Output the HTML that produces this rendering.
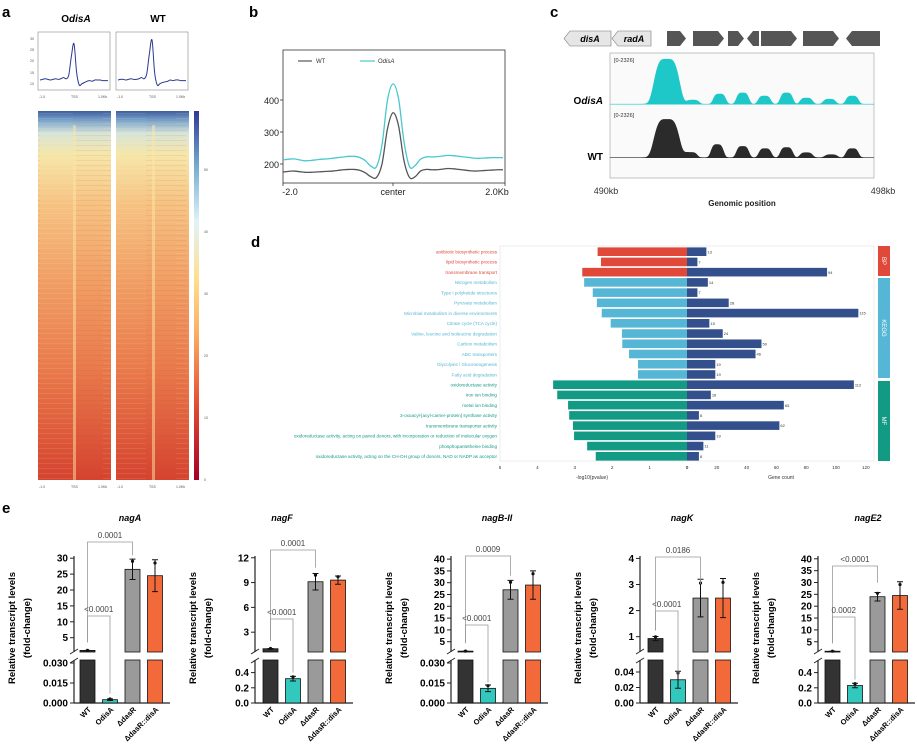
<!DOCTYPE html>
<html><head><meta charset="utf-8">
<style>
html,body{margin:0;padding:0;background:#fff;}
svg{display:block;font-family:"Liberation Sans","Noto Sans CJK SC",sans-serif;}
</style></head>
<body>
<svg id="fig" width="917" height="746" viewBox="0 0 917 746" xmlns="http://www.w3.org/2000/svg">
<defs>
<linearGradient id="hmGrad" x1="0" y1="0" x2="0" y2="1">
<stop offset="0" stop-color="#3d5c9e"/><stop offset="0.025" stop-color="#7aa3cc"/><stop offset="0.06" stop-color="#d6e4d8"/><stop offset="0.12" stop-color="#f6e6a8"/><stop offset="0.25" stop-color="#f6c383"/><stop offset="0.45" stop-color="#f1a066"/><stop offset="0.7" stop-color="#e97a4b"/><stop offset="1" stop-color="#d5432f"/>
</linearGradient>
<linearGradient id="cbGrad" x1="0" y1="1" x2="0" y2="0">
<stop offset="0" stop-color="#a50026"/><stop offset="0.2" stop-color="#e34a33"/><stop offset="0.4" stop-color="#fdae61"/><stop offset="0.55" stop-color="#fee090"/><stop offset="0.7" stop-color="#e0f3f8"/><stop offset="0.85" stop-color="#74add1"/><stop offset="1" stop-color="#313695"/>
</linearGradient>
<pattern id="streaks" width="73" height="5" patternUnits="userSpaceOnUse">
<rect x="0" y="0" width="40" height="1" fill="#c8442e" opacity="0.1"/><rect x="30" y="3" width="43" height="1" fill="#fff5d0" opacity="0.1"/>
</pattern>
</defs>

<text x="2" y="17" font-size="15" font-weight="bold">a</text>
<text x="249" y="17" font-size="15" font-weight="bold">b</text>
<text x="550" y="17" font-size="15" font-weight="bold">c</text>
<text x="251" y="247" font-size="15" font-weight="bold">d</text>
<text x="2" y="513" font-size="15" font-weight="bold">e</text>

<g id="pa">
<text x="76" y="22" font-size="10" font-weight="bold" text-anchor="middle"><tspan>O</tspan><tspan font-style="italic">disA</tspan></text>
<text x="158" y="22" font-size="10" font-weight="bold" text-anchor="middle">WT</text>
<rect x="38" y="32" width="72" height="58" fill="none" stroke="#888" stroke-width="0.6"/>
<rect x="116" y="32" width="72" height="58" fill="none" stroke="#888" stroke-width="0.6"/>
<g font-size="3.5" fill="#555">
<text x="30" y="40">30</text><text x="30" y="51">25</text><text x="30" y="62">20</text><text x="30" y="74">15</text><text x="30" y="85">10</text>
<text x="39" y="98">-1.0</text><text x="71" y="98">TSS</text><text x="98" y="98">1.0Kb</text>
<text x="117" y="98">-1.0</text><text x="149" y="98">TSS</text><text x="176" y="98">1.0Kb</text>
<text x="39" y="488">-1.0</text><text x="71" y="488">TSS</text><text x="98" y="488">1.0Kb</text>
<text x="117" y="488">-1.0</text><text x="149" y="488">TSS</text><text x="176" y="488">1.0Kb</text>
<text x="204" y="171">50</text><text x="204" y="233">40</text><text x="204" y="295">30</text><text x="204" y="357">20</text><text x="204" y="419">10</text><text x="204" y="481">0</text>
</g>
<rect x="38" y="111" width="73" height="369" fill="url(#hmGrad)"/>
<rect x="38" y="111" width="73" height="369" fill="url(#streaks)"/>
<rect x="73" y="125" width="3" height="355" fill="#fbe7a8" opacity="0.5"/>
<rect x="116" y="111" width="73" height="369" fill="url(#hmGrad)"/>
<rect x="116" y="111" width="73" height="369" fill="url(#streaks)"/>
<rect x="152" y="125" width="3" height="355" fill="#fbe7a8" opacity="0.5"/>
<rect x="194" y="111" width="5" height="369" fill="url(#cbGrad)"/>
</g>

<g id="pb">
<rect x="283" y="50" width="222" height="133" fill="none" stroke="#333" stroke-width="0.8"/>
<line x1="298" y1="61" x2="312" y2="61" stroke="#555" stroke-width="1.2"/><text x="316" y="63" font-size="6" fill="#333">WT</text>
<line x1="360" y1="61" x2="375" y2="61" stroke="#48c8cc" stroke-width="1.2"/><text x="378" y="63" font-size="6" fill="#333"><tspan>O</tspan><tspan font-style="italic">disA</tspan></text>
<g font-size="9" fill="#222" text-anchor="end">
<text x="279" y="104">400</text><text x="279" y="136">300</text><text x="279" y="168">200</text></g>
<g stroke="#333" stroke-width="0.8"><line x1="280" y1="100" x2="283" y2="100"/><line x1="280" y1="132" x2="283" y2="132"/><line x1="280" y1="164" x2="283" y2="164"/>
<line x1="283" y1="183" x2="283" y2="186"/><line x1="393" y1="183" x2="393" y2="186"/><line x1="505" y1="183" x2="505" y2="186"/></g>
<g font-size="9" fill="#222" text-anchor="middle"><text x="290" y="195">-2.0</text><text x="393" y="195">center</text><text x="497" y="195">2.0Kb</text></g>
<g id="bLines"></g>
</g>

<g id="pc">
<polygon points="570,31 611,31 611,46 570,46 564,38.5" fill="#e6e6e6" stroke="#777" stroke-width="0.6"/>
<text x="590" y="42" font-size="9" font-weight="bold" font-style="italic" text-anchor="middle">disA</text>
<polygon points="618,31 651,31 651,46 618,46 612,38.5" fill="#e6e6e6" stroke="#777" stroke-width="0.6"/>
<text x="634" y="42" font-size="9" font-weight="bold" font-style="italic" text-anchor="middle">radA</text>
<g fill="#555">
<polygon points="667,31 680,31 686,38.5 680,46 667,46"/>
<polygon points="693,31 718,31 724,38.5 718,46 693,46"/>
<polygon points="728,31 738,31 744,38.5 738,46 728,46"/>
<polygon points="753,31 759,31 759,46 753,46 747,38.5"/>
<polygon points="761,31 791,31 797,38.5 791,46 761,46"/>
<polygon points="803,31 833,31 839,38.5 833,46 803,46"/>
<polygon points="852,31 880,31 880,46 852,46 846,38.5"/>
</g>
<rect x="610" y="53" width="264" height="125" fill="#fafafa" stroke="#aaa" stroke-width="0.7"/>
<text x="614" y="62" font-size="5.5" fill="#333">[0-2326]</text>
<text x="614" y="117" font-size="5.5" fill="#333">[0-2326]</text>
<text x="603" y="104" font-size="10" font-weight="bold" text-anchor="end"><tspan>O</tspan><tspan font-style="italic">disA</tspan></text>
<text x="603" y="160" font-size="10" font-weight="bold" text-anchor="end">WT</text>
<g id="cTracks"></g>
<text x="606" y="194" font-size="9" fill="#333" text-anchor="middle">490kb</text>
<text x="883" y="194" font-size="9" fill="#333" text-anchor="middle">498kb</text>
<text x="742" y="206" font-size="8" font-weight="bold" fill="#222" text-anchor="middle">Genomic position</text>
</g>

<g id="pd">
<rect x="500" y="246" width="374" height="215" fill="none" stroke="#e2e2e2" stroke-width="0.6"/>
<rect x="878" y="246" width="12" height="30" fill="#e0483a"/>
<rect x="878" y="278" width="12" height="100" fill="#56b6d6"/>
<rect x="878" y="381" width="12" height="80" fill="#139a84"/>
<text transform="translate(884,261) rotate(90)" font-size="6" fill="#fff" text-anchor="middle" dy="2">BP</text>
<text transform="translate(884,328) rotate(90)" font-size="6" fill="#fff" text-anchor="middle" dy="2">KEGG</text>
<text transform="translate(884,421) rotate(90)" font-size="6" fill="#fff" text-anchor="middle" dy="2">MF</text>
<g id="dBars"></g>
<text x="592" y="479" font-size="5" fill="#333" text-anchor="middle">-log10(pvalue)</text>
<text x="781" y="479" font-size="5" fill="#333" text-anchor="middle">Gene count</text>
</g>

<g id="pe"></g>
</svg>

<script>
const aProfileOdisA=[16,16.5,17,16.5,16,16.5,17,16.5,17,18,17,20,35,45,22,12,13,14,15,15.5,15,16,16,16,15.5,15.5,15.5];
const aProfileWT=[16,16.5,16.5,16,16.5,17,16.5,16.5,17,18,17,21,37,48,22,12,13,14,14.5,15,16,15.5,16,16,15.5,15.5,15.5];

const bPositions=[-2.0,-1.9,-1.8,-1.7,-1.6,-1.5,-1.4,-1.3,-1.2,-1.1,-1.0,-0.9,-0.8,-0.7,-0.6,-0.5,-0.4,-0.3,-0.2,-0.1,0,0.1,0.2,0.3,0.4,0.5,0.6,0.7,0.8,0.9,1.0,1.1,1.2,1.3,1.4,1.5,1.6,1.7,1.8,1.9,2.0];
const bWT=[175,177,178,176,174,174,175,176,177,178,180,182,183,183,180,172,160,158,200,310,360,320,210,158,160,178,183,182,182,184,186,185,183,181,179,178,179,180,181,182,182];
const bOdisA=[213,215,216,213,210,211,213,215,216,218,220,222,224,224,220,210,193,192,260,400,450,405,270,192,195,215,222,222,223,225,227,226,224,222,220,218,218,219,220,220,220];

const cOdisAPos=[1.72,2.51,3.32,4.02,4.68,5.35,5.95,6.65,7.34];
const cOdisAH=[2000,180,450,500,360,500,270,220,360];
const cWTPos=[1.72,2.45,3.25,4.02,4.7,5.35,5.95,6.7,7.34];
const cWTH=[1700,230,580,500,400,450,220,130,400];

const dTerms=["antibiotic biosynthetic process","lipid biosynthetic process","transmembrane transport","Nitrogen metabolism","Type I polyketide structures","Pyruvate metabolism","Microbial metabolism in diverse environments","Citrate cycle (TCA cycle)","Valine, leucine and isoleucine degradation","Carbon metabolism","ABC transporters","Glycolysis / Gluconeogenesis","Fatty acid degradation","oxidoreductase activity","iron ion binding","metal ion binding","3-oxoacyl-[acyl-carrier-protein] synthase activity","transmembrane transporter activity","oxidoreductase activity, acting on paired donors, with incorporation or reduction of molecular oxygen","phosphopantetheine binding","oxidoreductase activity, acting on the CH-OH group of donors, NAD or NADP as acceptor"];
const dGroups=["BP","BP","BP","KEGG","KEGG","KEGG","KEGG","KEGG","KEGG","KEGG","KEGG","KEGG","KEGG","MF","MF","MF","MF","MF","MF","MF","MF"];
const dLogP=[2.39,2.3,2.8,2.75,2.52,2.41,2.28,2.04,1.74,1.73,1.55,1.31,1.31,3.58,3.47,3.18,3.15,3.05,3.02,2.67,2.44];
const dCounts=[13,7,94,14,7,28,115,15,24,50,46,19,19,112,16,65,8,62,19,11,8];
const dLeftTicks=[5,4,3,2,1,0];
const dRightTicks=[0,20,40,60,80,100,120];

const eGenes=["nagA","nagF","nagB-II","nagK","nagE2"];
const eStrains=["WT","OdisA","\u0394dasR","\u0394dasR::disA"];
const eMeans=[[1,0.0025,26.5,24.5],[1,0.32,9.1,9.3],[1,0.011,27,29],[0.93,0.03,2.48,2.48],[1,0.23,24,24.5]];
const eErr=[[0.02,0.0006,3.2,5],[0.03,0.03,1,0.5],[0.02,0.0025,4,6],[0.08,0.011,0.72,0.75],[0.02,0.03,1.8,5.8]];
const eUpperTicks=[[5,10,15,20,25,30],[3,6,9,12],[5,10,15,20,25,30,35,40],[1,2,3,4],[5,10,15,20,25,30,35,40]];
const eLowerTicks=[[0,0.015,0.03],[0,0.2,0.4],[0,0.015,0.03],[0,0.02,0.04],[0,0.2,0.4]];
const eLowerLabels=[["0.000","0.015","0.030"],["0.0","0.2","0.4"],["0.000","0.015","0.030"],["0.00","0.02","0.04"],["0.0","0.2","0.4"]];
const ePSmall=["<0.0001","<0.0001","<0.0001","<0.0001","0.0002"];
const ePBig=["0.0001","0.0001","0.0009","0.0186","<0.0001"];

const NS="http://www.w3.org/2000/svg";
function mk(tag,attrs,parent){const e=document.createElementNS(NS,tag);for(const k in attrs)e.setAttribute(k,attrs[k]);parent.appendChild(e);return e;}
function smooth(pts){let d="M"+pts[0][0]+","+pts[0][1];for(let i=0;i<pts.length-1;i++){const p0=pts[Math.max(0,i-1)],p1=pts[i],p2=pts[i+1],p3=pts[Math.min(pts.length-1,i+2)];const c1x=p1[0]+(p2[0]-p0[0])/6,c1y=p1[1]+(p2[1]-p0[1])/6,c2x=p2[0]-(p3[0]-p1[0])/6,c2y=p2[1]-(p3[1]-p1[1])/6;d+=" C"+c1x+","+c1y+" "+c2x+","+c2y+" "+p2[0]+","+p2[1];}return d;}

(function(){
  const pa=document.getElementById('pa');
  [[aProfileOdisA,38,'profile-line-odisa'],[aProfileWT,116,'profile-line-wt']].forEach(function(s){
    const n=s[0].length;
    const pts=s[0].map(function(v,i){return [s[1]+2+i*(68/(n-1)), 90-(v-8)*1.25];});
    const p=mk('path',{d:smooth(pts),fill:'none',stroke:'#2b3a8f','stroke-width':1},pa);
    
    
  });
})();

(function(){
  const g=document.getElementById('bLines');
  const xS=function(v){return 393+v*55;};
  const yS=function(v){return 164-(v-200)*0.32;};
  [[bWT,'#555','line-wt'],[bOdisA,'#48c8cc','line-odisa']].forEach(function(s){
    const pts=bPositions.map(function(p,i){return [xS(p),yS(s[0][i])];});
    const p=mk('path',{d:smooth(pts),fill:'none',stroke:s[1],'stroke-width':1.3},g);
    
    
  });
})();

(function(){
  const g=document.getElementById('cTracks');
  function track(pos,h,base,color,name){
    let d="M610,"+base;
    for(let x=610;x<=874;x+=1){
      const kb=(x-610)/33;let v=30;
      for(let i=0;i<pos.length;i++){const sg=i===0?0.36:0.18;v+=h[i]*Math.exp(-Math.pow((kb-pos[i])/sg,4)/2);}
      d+=" L"+x+","+(base-v*0.0225).toFixed(2);
    }
    d+=" L874,"+base+" Z";
    const p=mk('path',{d:d,fill:color},g);
    
    
  }
  track(cOdisAPos,cOdisAH,104.5,'#1ec8c8','track-odisa');
  track(cWTPos,cWTH,158,'#2b2b2b','track-wt');
})();

(function(){
  const g=document.getElementById('dBars');
  const col={BP:'#e0483a',KEGG:'#56b6d6',MF:'#139a84'};
  const xL=function(v){return 687-v*37.4;};
  const xR=function(v){return 687+v*1.49;};
  dTerms.forEach(function(t,i){
    const y=251.7+i*10.23;
    const b1=mk('rect',{x:xL(dLogP[i]),y:y-4.3,width:687-xL(dLogP[i]),height:8.6,fill:col[dGroups[i]]},g);
    
    
    const b2=mk('rect',{x:687,y:y-4.3,width:xR(dCounts[i])-687,height:8.6,fill:'#34508c'},g);
    
    
    const lt=mk('text',{x:497,y:y+1.8,'font-size':4.6,fill:col[dGroups[i]],'text-anchor':'end'},g);
    lt.textContent=t;
    
    
    const ct=mk('text',{x:xR(dCounts[i])+1,y:y+1.6,'font-size':4,fill:'#333'},g);
    ct.textContent=dCounts[i];
    
    
  });
  dLeftTicks.forEach(function(v){const t=mk('text',{x:xL(v),y:469,'font-size':4.6,fill:'#333','text-anchor':'middle'},g);t.textContent=v;});
  dRightTicks.forEach(function(v){const t=mk('text',{x:xR(v),y:469,'font-size':4.6,fill:'#333','text-anchor':'middle'},g);t.textContent=v;});
})();

(function(){
  const pe=document.getElementById('pe');
  const axisX=[74,255,451,640,818];
  const barX0=[80,263,458,648,825];
  const titleX=[130,282,497,682,868];
  const upPx=[3.18,8.27,2.36,26.1,2.37];
  const upZero=[653.6,657,653.5,662.8,653.6];
  const loPx=[1333,76,1333,775,76];
  const bigY=[542,550,556,557,566];
  const smallY=[616,619,625,611,617];
  const colors=['#333333','#33c8be','#9a9a9a','#f26a3a'];
  const UB=652, LT=660, LZ=703;
  eGenes.forEach(function(gene,k){
    const g=mk('g',{},pe);
    
    
    const ax=axisX[k];
    const yU=function(v){return Math.min(UB,upZero[k]-v*upPx[k]);};
    const yL=function(v){return Math.max(LT,LZ-v*loPx[k]);};
    const loMax=(LZ-LT)/loPx[k];
    const tt=mk('text',{x:titleX[k],y:521,'font-size':9,'font-weight':'bold','font-style':'italic','text-anchor':'middle'},g);
    tt.textContent=gene;
    
    
    [['Relative transcript levels',ax-59],['(fold-change)',ax-44]].forEach(function(a){
      const t=mk('text',{transform:'translate('+a[1]+',628) rotate(-90)','font-size':9.5,'font-weight':'bold','text-anchor':'middle'},g);
      t.textContent=a[0];
      
      
    });
    mk('line',{x1:ax,y1:556,x2:ax,y2:UB,stroke:'#222','stroke-width':1.2},g);
    mk('line',{x1:ax,y1:LT,x2:ax,y2:LZ,stroke:'#222','stroke-width':1.2},g);
    mk('line',{x1:ax,y1:LZ,x2:barX0[k]+4*22.5,y2:LZ,stroke:'#222','stroke-width':1.2},g);
    mk('line',{x1:ax-4,y1:UB+2,x2:ax+4,y2:UB-3,stroke:'#222','stroke-width':1},g);
    mk('line',{x1:ax-4,y1:LT+3,x2:ax+4,y2:LT-2,stroke:'#222','stroke-width':1},g);
    eUpperTicks[k].forEach(function(v){
      const y=upZero[k]-v*upPx[k];
      mk('line',{x1:ax-4,y1:y,x2:ax,y2:y,stroke:'#222','stroke-width':1},g);
      const t=mk('text',{x:ax-6,y:y+3.5,'font-size':10,'font-weight':'bold','text-anchor':'end'},g);
      t.textContent=v;
      
      
    });
    eLowerTicks[k].forEach(function(v,i){
      const y=LZ-v*loPx[k];
      mk('line',{x1:ax-4,y1:y,x2:ax,y2:y,stroke:'#222','stroke-width':1},g);
      const t=mk('text',{x:ax-6,y:y+3.5,'font-size':10,'font-weight':'bold','text-anchor':'end'},g);
      t.textContent=eLowerLabels[k][i];
      
      
    });
    const tops=[];
    eMeans[k].forEach(function(m,i){
      const x=barX0[k]+i*22.5, w=15, cx=x+w/2;
      let top;
      if(m<=loMax){
        top=yL(m);
        const r=mk('rect',{x:x,y:top,width:w,height:LZ-top,fill:colors[i],stroke:'#111','stroke-width':0.8},g);
        
        
      } else {
        const r1=mk('rect',{x:x,y:LT,width:w,height:LZ-LT,fill:colors[i],stroke:'#111','stroke-width':0.8},g);
        
        
        top=yU(m);
        const r2=mk('rect',{x:x,y:top,width:w,height:Math.max(0.8,UB-top),fill:colors[i],stroke:'#111','stroke-width':0.8},g);
        
        
      }
      tops.push(top);
      const e=eErr[k][i];
      const f=m<=loMax?yL:yU;
      const y1=f(m+e), y2=f(Math.max(0,m-e));
      const eb=mk('path',{d:'M'+cx+','+y1+' V'+y2+' M'+(cx-3)+','+y1+' H'+(cx+3)+' M'+(cx-3)+','+y2+' H'+(cx+3),stroke:'#111','stroke-width':1,fill:'none'},g);
      
      
      const dot=mk('circle',{cx:cx,cy:f(m+e*0.8),r:1.6,fill:'#111'},g);
      
      
      const lab=mk('text',{transform:'translate('+(cx+4)+',710) rotate(-45)','font-size':7.5,'font-weight':'bold','text-anchor':'end'},g);
      lab.textContent=eStrains[i];
      
      
    });
    const c0=barX0[k]+7.5, c1=c0+22.5, c2=c0+45;
    const bb=mk('path',{d:'M'+c0+','+(tops[0]-8)+' V'+bigY[k]+' H'+c2+' V'+(tops[2]-14),stroke:'#999','stroke-width':0.8,fill:'none'},g);
    
    
    const bt=mk('text',{x:(c0+c2)/2,y:bigY[k]-4,'font-size':8,fill:'#444','text-anchor':'middle'},g);
    bt.textContent=ePBig[k];
    
    
    const sb=mk('path',{d:'M'+c0+','+(tops[0]-8)+' V'+smallY[k]+' H'+c1+' V'+(tops[1]-6),stroke:'#999','stroke-width':0.8,fill:'none'},g);
    
    
    const st=mk('text',{x:(c0+c1)/2,y:smallY[k]-4,'font-size':8,fill:'#444','text-anchor':'middle'},g);
    st.textContent=ePSmall[k];
    
    
  });
})();
</script>
</body></html>
